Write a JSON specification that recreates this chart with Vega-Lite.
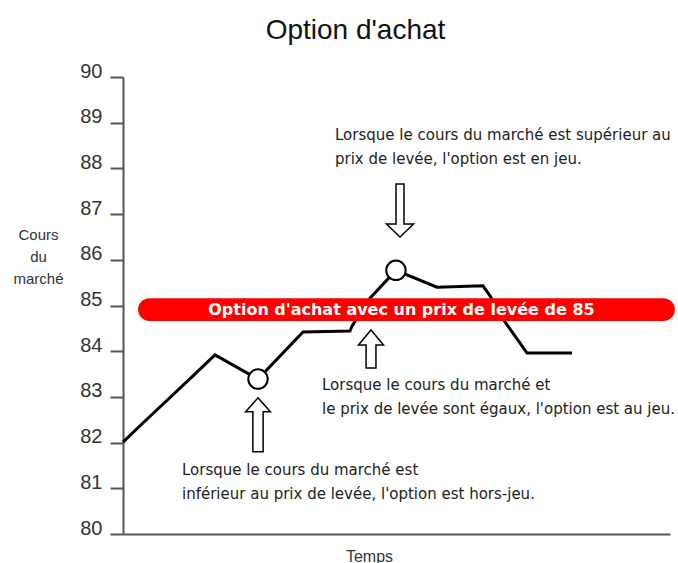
{
  "$schema": "https://vega.github.io/schema/vega-lite/v6.json",
  "width": 547,
  "height": 457,
  "autosize": {"type": "none"},
  "padding": {"left": 123, "top": 77, "right": 8, "bottom": 29},
  "title": {"text": "Option d'achat", "font": "Liberation Sans", "fontSize": 28, "fontWeight": "normal", "color": "#111", "offset": 16, "dx": -41},
  "config": {"view": {"stroke": null}},
  "datasets": {
    "price": [
      {"t": 0, "p": 82.01},
      {"t": 3.84, "p": 82.45},
      {"t": 12.61, "p": 83.44},
      {"t": 16.82, "p": 83.92},
      {"t": 24.68, "p": 83.39},
      {"t": 32.91, "p": 84.42},
      {"t": 41.5, "p": 84.44},
      {"t": 41.86, "p": 84.55},
      {"t": 45.16, "p": 85.16},
      {"t": 49.9, "p": 85.77},
      {"t": 57.4, "p": 85.4},
      {"t": 65.81, "p": 85.43},
      {"t": 67.09, "p": 85.21},
      {"t": 69.84, "p": 84.64},
      {"t": 73.86, "p": 83.96},
      {"t": 82.08, "p": 83.96}
    ],
    "band": [{"t0": 2.74, "t1": 100.9, "p0": 84.66, "p1": 85.16, "t": 50.9, "p": 84.91, "label": "Option d'achat avec un prix de levée de 85"}],
    "circles": [{"t": 24.68, "p": 83.39}, {"t": 49.9, "p": 85.77}],
    "notes": [
      {"t": 38.76, "p": 88.88, "label": "Lorsque le cours du marché est supérieur au\nprix de levée, l'option est en jeu."},
      {"t": 36.38, "p": 83.41, "label": "Lorsque le cours du marché et\nle prix de levée sont égaux, l'option est au jeu."},
      {"t": 10.79, "p": 81.55, "label": "Lorsque le cours du marché est\ninférieur au prix de levée, l'option est hors-jeu."}
    ]
  },
  "layer": [
    {
      "data": {"name": "price"},
      "mark": {"type": "line", "color": "#000", "strokeWidth": 3},
      "encoding": {
        "x": {"field": "t", "type": "quantitative", "scale": {"domain": [0, 100], "nice": false, "zero": false},
          "axis": {"title": "Temps", "labels": false, "ticks": false, "grid": false, "domainColor": "#555", "domainWidth": 2,
            "titleX": 246, "titleY": 22, "titleBaseline": "middle", "titleFont": "Liberation Sans", "titleFontSize": 16, "titleFontWeight": "normal", "titleColor": "#333"}},
        "y": {"field": "p", "type": "quantitative", "scale": {"domain": [80, 90], "nice": false, "zero": false},
          "axis": {"values": [80, 81, 82, 83, 84, 85, 86, 87, 88, 89, 90], "title": ["Cours", "du", "marché"], "titleAngle": 0, "titleX": -85, "titleY": 150,
            "titleAlign": "center", "titleBaseline": "top", "titleFont": "Liberation Sans", "titleFontSize": 15, "titleFontWeight": "normal", "titleLineHeight": 22, "titleColor": "#333",
            "grid": false, "domainColor": "#555", "domainWidth": 2, "tickColor": "#555", "tickWidth": 2, "tickSize": 13,
            "labelFont": "Liberation Sans", "labelFontSize": 20, "labelColor": "#333", "labelPadding": 8, "labelOffset": -6}}
      }
    },
    {
      "data": {"name": "band"},
      "mark": {"type": "rect", "color": "#ff0000", "cornerRadius": 11.5},
      "encoding": {
        "x": {"field": "t0", "type": "quantitative"},
        "x2": {"field": "t1"},
        "y": {"field": "p0", "type": "quantitative"},
        "y2": {"field": "p1"}
      }
    },
    {
      "data": {"name": "band"},
      "mark": {"type": "text", "color": "#fff", "font": "DejaVu Sans", "fontWeight": "bold", "fontSize": 16, "align": "center", "baseline": "middle"},
      "encoding": {
        "x": {"field": "t", "type": "quantitative"},
        "y": {"field": "p", "type": "quantitative"},
        "text": {"field": "label"}
      }
    },
    {
      "data": {"name": "circles"},
      "mark": {"type": "point", "shape": "circle", "filled": true, "fill": "#fff", "stroke": "#000", "strokeWidth": 2, "size": 380, "opacity": 1},
      "encoding": {
        "x": {"field": "t", "type": "quantitative"},
        "y": {"field": "p", "type": "quantitative"}
      }
    },
    {
      "data": {"values": [{"t": 24.68, "p": 82.39}]},
      "mark": {"type": "point", "shape": "M0,-1L0.46,-0.48L0.19,-0.48L0.19,1L-0.19,1L-0.19,-0.48L-0.46,-0.48Z", "filled": true, "fill": "#fff", "stroke": "#000", "strokeWidth": 1.5, "size": 2916, "opacity": 1},
      "encoding": {
        "x": {"field": "t", "type": "quantitative"},
        "y": {"field": "p", "type": "quantitative"}
      }
    },
    {
      "data": {"values": [{"t": 45.34, "p": 84.05}]},
      "mark": {"type": "point", "shape": "M0,-1L0.66,-0.21L0.26,-0.21L0.26,1L-0.26,1L-0.26,-0.21L-0.66,-0.21Z", "filled": true, "fill": "#fff", "stroke": "#000", "strokeWidth": 1.5, "size": 1444, "opacity": 1},
      "encoding": {
        "x": {"field": "t", "type": "quantitative"},
        "y": {"field": "p", "type": "quantitative"}
      }
    },
    {
      "data": {"values": [{"t": 50.64, "p": 87.08}]},
      "mark": {"type": "point", "shape": "M0,1L0.51,0.51L0.15,0.51L0.15,-1L-0.15,-1L-0.15,0.51L-0.51,0.51Z", "filled": true, "fill": "#fff", "stroke": "#000", "strokeWidth": 1.5, "size": 2809, "opacity": 1},
      "encoding": {
        "x": {"field": "t", "type": "quantitative"},
        "y": {"field": "p", "type": "quantitative"}
      }
    },
    {
      "data": {"name": "notes"},
      "mark": {"type": "text", "color": "#222", "font": "DejaVu Sans", "fontSize": 15, "lineHeight": 24, "lineBreak": "\n", "align": "left", "baseline": "top"},
      "encoding": {
        "x": {"field": "t", "type": "quantitative"},
        "y": {"field": "p", "type": "quantitative"},
        "text": {"field": "label"}
      }
    }
  ]
}
